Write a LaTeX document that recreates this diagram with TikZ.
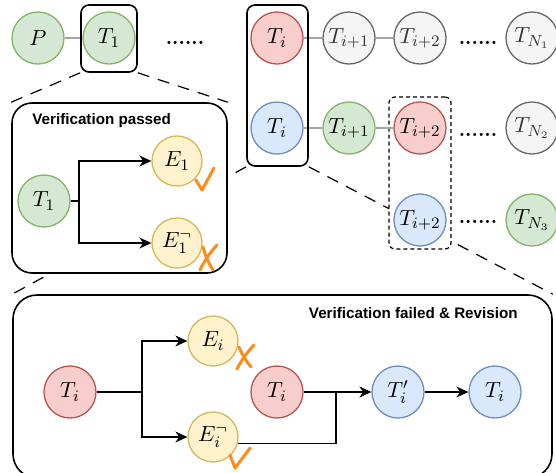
\documentclass[tikz,border=0pt]{standalone}
\usepackage{fontspec}
\newfontfamily\titlefont{Liberation Sans}
\usetikzlibrary{arrows.meta,backgrounds}

\definecolor{okfill}{HTML}{D5E8D4}
\definecolor{okline}{HTML}{82B366}
\definecolor{badfill}{HTML}{F8CECC}
\definecolor{badline}{HTML}{B85450}
\definecolor{revfill}{HTML}{DAE8FC}
\definecolor{revline}{HTML}{6C8EBF}
\definecolor{idlefill}{HTML}{F5F5F5}
\definecolor{idleline}{HTML}{666666}
\definecolor{evalfill}{HTML}{FFF2CC}
\definecolor{evalline}{HTML}{D6B656}
\definecolor{markcol}{HTML}{FF8C1A}
\definecolor{linkcol}{HTML}{A6A6A6}

\begin{document}
\begin{tikzpicture}[
        x                       = 0.5pt,
        y                       = -0.5pt,
        every node/.style       = {font=\fontsize{11}{13}\selectfont},
        state/.style            = {circle, draw, line width=0.65pt, minimum size=26pt, inner sep=0pt},
        okstate/.style          = {state, fill=okfill, draw=okline},
        badstate/.style         = {state, fill=badfill, draw=badline},
        revstate/.style         = {state, fill=revfill, draw=revline},
        idlestate/.style        = {state, fill=idlefill, draw=idleline, text=black!80},
        evalstate/.style        = {state, fill=evalfill, draw=evalline, minimum size=25pt},
        gap/.style              = {font=\bfseries\fontsize{10}{12}\selectfont},
        link/.style             = {draw=linkcol, line width=0.6pt},
        flow/.style             = {draw, line width=0.7pt, -{Stealth[length=6pt,width=5.5pt]}},
        selbox/.style           = {draw, line width=0.8pt, rounded corners=4pt, inner sep=0pt},
        panel/.style            = {draw, fill=white, line width=0.8pt, inner sep=0pt},
        zoomline/.style         = {draw, line width=0.6pt, dash pattern=on 6pt off 4.5pt},
        tickmark/.style         = {draw=markcol, line width=1.5pt, line cap=round, line join=round},
        title/.style            = {font=\titlefont\bfseries\fontsize{7.6}{9}\selectfont, inner sep=0pt}
      ]
    \useasboundingbox (0,0) rectangle (556,472);

    % top rows
    \node[okstate] (p) at (38,38) {$P$};
    \node[okstate] (t1) at (109,38) {$T_1$};
    \node[gap] (dots1) at (185,43) {......};

    \node[badstate]  (ia) at (277,38) {$T_i$};
    \node[idlestate] (ia1) at (349,38) {$T_{i+1}$};
    \node[idlestate] (ia2) at (420,38) {$T_{i+2}$};
    \node[gap] (dots2) at (478,43) {......};
    \node[idlestate] (na) at (532,38) {$T_{N_1}$};

    \node[revstate]  (ib) at (277,128) {$T_i$};
    \node[okstate]   (ib1) at (349,128) {$T_{i+1}$};
    \node[gap] (dots3) at (478,135) {......};
    \node[idlestate] (nb) at (532,128) {$T_{N_2}$};

    \node[gap] (dots4) at (478,222) {......};
    \node[okstate]   (nc) at (532,220) {$T_{N_3}$};

    \node[draw, line width=0.6pt, rounded corners=3pt, dash pattern=on 2pt off 1.5pt, fill=white,
          minimum width=31pt, minimum height=76pt] (branchbox) at (420,173) {};
    \node[badstate] (ib2) at (420,128) {$T_{i+2}$};
    \node[revstate] (ic2) at (420,220) {$T_{i+2}$};

    \draw[link] (p) -- (t1);
    \draw[link] (ia) -- (ia1) -- (ia2);
    \draw[link] (ib) -- (ib1) -- (ib2);

    \node[selbox, minimum width=28pt, minimum height=33.5pt] (box1) at (109,38.5) {};
    \node[selbox, minimum width=30.5pt, minimum height=80.5pt] (boxi) at (277.5,85.5) {};

    % verification passed
    \node[panel, rounded corners=10pt, minimum width=107.5pt, minimum height=85pt] (passbox) at (119.5,188) {};
    \node[title, anchor=west] (passtitle) at (32,121) {Verification passed};
    \node[okstate]   (pt) at (44,201) {$T_1$};
    \node[evalstate] (pe) at (177,161) {$E_1$};
    \node[evalstate] (pen) at (177,243) {$E_1^{\neg}$};
    \draw[flow] (pt) -- ++(35,0) |- (pe);
    \draw[flow] (pt) -- ++(35,0) |- (pen);
    \draw[tickmark] (196,180) -- (202,190) -- (214,168);
    \draw[tickmark] (200,270) to[bend left=8] (217,245);
    \draw[tickmark] (203,247) to[bend right=8] (213,270);

    % verification failed & revision
    \node[panel, rounded corners=12pt, minimum width=269.5pt, minimum height=91.5pt] (failbox) at (282.5,386.5) {};
    \node[title, anchor=east] (failtitle) at (518,313) {Verification failed \& Revision};
    \node[badstate]  (ft) at (70,392) {$T_i$};
    \node[evalstate] (fe) at (213,341) {$E_i$};
    \node[evalstate] (fen) at (213,437) {$E_i^{\neg}$};
    \node[badstate]  (fmid) at (277,392) {$T_i$};
    \node[revstate]  (frev) at (398,392) {$T_i'$};
    \node[revstate]  (fend) at (495,392) {$T_i$};
    \draw[flow] (ft) -- ++(72,0) |- (fe);
    \draw[flow] (ft) -- ++(72,0) |- (fen);
    \draw[flow] (fmid) -- (frev);
    \draw[line width=0.7pt] (fen.-15) -| (336,392);
    \draw[flow] (frev) -- (fend);
    \draw[tickmark] (237,369) to[bend left=8] (254,345);
    \draw[tickmark] (239,347) to[bend right=8] (251,367);
    \draw[tickmark] (230,455) -- (235,468) -- (250,448);

    \begin{pgfonlayer}{background}
        \draw[zoomline] (box1.south west) -- (passbox.north west);
        \draw[zoomline] (box1.south east) -- (passbox.north east);
        \draw[zoomline] (boxi.south west) -- (failbox.north west);
        \draw[zoomline] (boxi.south east) -- (failbox.north east);
    \end{pgfonlayer}
\end{tikzpicture}
\end{document}
